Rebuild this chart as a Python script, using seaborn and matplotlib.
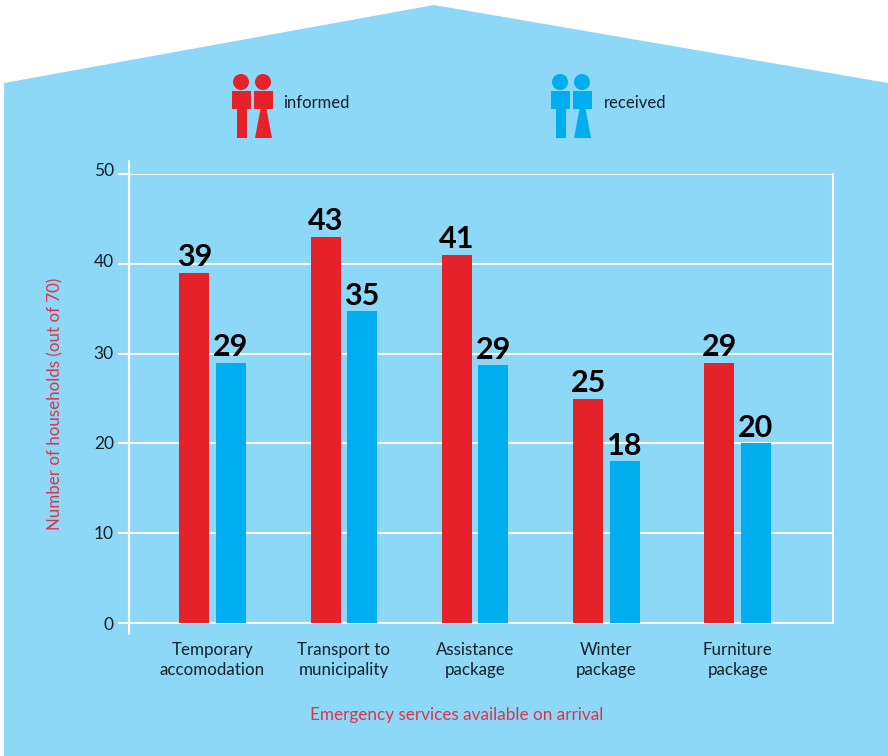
import matplotlib
matplotlib.use('Agg')
import matplotlib.pyplot as plt
from matplotlib.patches import Polygon, Circle, Rectangle
from matplotlib.transforms import Affine2D, ScaledTranslation
import pandas as pd
import seaborn as sns

categories = ['Temporary\naccomodation', 'Transport to\nmunicipality', 'Assistance\npackage',
              'Winter\npackage', 'Furniture\npackage']
informed = [39, 43, 41, 25, 29]
received = [29, 34.7, 28.7, 18, 20]
informed_labels = ['39', '43', '41', '25', '29']
received_labels = ['29', '35', '29', '18', '20']
y_ticks = [0, 10, 20, 30, 40, 50]

RED = '#e52229'
BLUE = '#00aeef'
SKY = '#8dd7f7'
TEXT = '#14212b'
LABEL_RED = '#d9364a'
W, H = 888, 756

sns.set_theme(style='white')
plt.rcParams['font.family'] = ['Lato', 'DejaVu Sans']

fig = plt.figure(figsize=(W / 100, H / 100), dpi=100, facecolor='white')
# pixel coordinates with the origin top left, as in the reference
px = Affine2D().scale(1, -1).translate(0, H)

fig.add_artist(Polygon([(4, 83), (434, 5), (888, 83), (888, 756), (4, 756)],
                       closed=True, transform=px, facecolor=SKY, edgecolor='none', zorder=-1))


def person(x, color, skirt=False):
    fig.add_artist(Circle((x + 9, 82), 8, transform=px, facecolor=color, edgecolor='none'))
    fig.add_artist(Rectangle((x, 91), 19, 18, transform=px, facecolor=color, edgecolor='none'))
    if skirt:
        shape = [(x + 6.5, 109), (x + 12.5, 109), (x + 18, 138), (x + 1, 138)]
    else:
        shape = [(x + 4.5, 109), (x + 14.5, 109), (x + 14.5, 138), (x + 4.5, 138)]
    fig.add_artist(Polygon(shape, closed=True, transform=px, facecolor=color, edgecolor='none'))


person(232, RED)
person(254, RED, skirt=True)
person(551, BLUE)
person(573, BLUE, skirt=True)
fig.text(283 / W, 1 - 103 / H, 'informed', color=TEXT, fontsize=12, va='center', ha='left')
fig.text(604 / W, 1 - 103 / H, 'received', color=TEXT, fontsize=12, va='center', ha='left')

ax = fig.add_axes([129 / W, 1 - 623 / H, (833 - 129) / W, (623 - 174) / H])
ax.patch.set_alpha(0)

df = pd.DataFrame({
    'category': categories * 2,
    'households': informed + received,
    'series': ['informed'] * 5 + ['received'] * 5,
})
sns.barplot(data=df, x='category', y='households', hue='series', ax=ax,
            palette={'informed': RED, 'received': BLUE}, width=0.556, gap=0.178,
            saturation=1, legend=False, zorder=3, linewidth=0, edgecolor='none')

for container, labels in zip(ax.containers, [informed_labels, received_labels]):
    ax.bar_label(container, labels=labels, fontsize=22, fontweight='bold', color='black',
                 padding=1, zorder=4)

ax.set_xlim(-0.636, 4.726)
ax.set_ylim(0, 50)
ax.set_yticks(y_ticks)
ax.grid(axis='y', color='white', linewidth=1.5, zorder=1)
ax.set_axisbelow(True)
for side in ['top', 'bottom', 'left', 'right']:
    ax.spines[side].set_color('white')
    ax.spines[side].set_linewidth(1.5)
ax.spines['top'].set_visible(False)

ax.tick_params(axis='y', length=8, width=1.5, color='white', labelsize=12.5, labelcolor=TEXT, pad=3, left=True)
ax.tick_params(axis='x', length=0, labelsize=12.2, labelcolor=TEXT, pad=14)
for label in ax.get_xticklabels():
    label.set_linespacing(1.3)
ax.set_xlabel('Emergency services available on arrival', color=LABEL_RED, fontsize=12.3, va='center')
ax.set_ylabel('Number of households (out of 70)', color=LABEL_RED, fontsize=12.2, va='center')
ax.xaxis.set_label_coords((457 - 129) / (833 - 129), -(715 - 623) / (623 - 174), transform=ax.transAxes)
ax.yaxis.set_label_coords(-(129 - 55.5) / (833 - 129), (623 - 403.5) / (623 - 174), transform=ax.transAxes)

# the upper tick labels sit a little above their gridlines in the original
for tick, shift in zip(ax.yaxis.get_major_ticks(), [0, 1, 1, 1, 3, 4]):
    tick.label1.set_transform(tick.label1.get_transform() + ScaledTranslation(0, shift / 100, fig.dpi_scale_trans))

# left axis line overshoots the plot area at both ends
ax.plot([0, 0], [-0.025, 1.028], transform=ax.transAxes, color='white', lw=1.5, clip_on=False, zorder=2)

fig.savefig('out.png', dpi=100)
